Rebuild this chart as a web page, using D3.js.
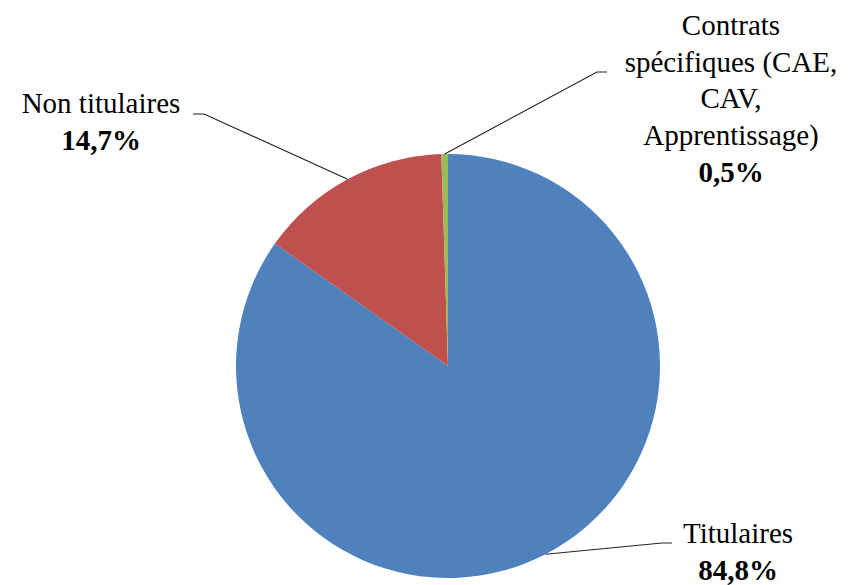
<!DOCTYPE html>
<html>
<head>
<meta charset="utf-8">
<script src="https://cdn.jsdelivr.net/npm/d3@7"></script>
</head>
<body style="margin:0">
<svg id="chart" width="852" height="585"></svg>
<script>
// Répartition des effectifs par statut (%)
const categories = ["Titulaires", "Non titulaires", "Contrats spécifiques (CAE, CAV, Apprentissage)"];
const labelLines = [
  ["Titulaires"],
  ["Non titulaires"],
  ["Contrats", "spécifiques (CAE,", "CAV,", "Apprentissage)"]
];
const values = [84.8, 14.7, 0.5];
const colors = ["#4F81BD", "#C0504D", "#9BBB59"];

const cx = 448, cy = 366, radius = 212;
const fontSize = 29, lineGap = 36.7;

// Label block placement: text centre x, first baseline y, and the leader elbow
const labelPlacement = [
  { x: 738, y: 543, elbow: [[662, 543], [672, 543]] },
  { x: 101, y: 113, elbow: [[204, 114], [193, 114]] },
  { x: 731, y: 35,  elbow: [[597, 72], [607, 72]] }
];

const fmt = v => d3.format(".1f")(v).replace(".", ",") + "%";

const svg = d3.select("#chart");
const g = svg.append("g").attr("transform", `translate(${cx},${cy})`);

const pie = d3.pie().sort(null).value(d => d).startAngle(0).endAngle(2 * Math.PI);
const arcs = pie(values);
const arc = d3.arc().innerRadius(0).outerRadius(radius);
const edgeArc = d3.arc().innerRadius(radius).outerRadius(radius);

g.selectAll("path.slice")
  .data(arcs)
  .join("path")
  .attr("class", "slice")
  .attr("d", arc)
  .attr("fill", (d, i) => colors[i]);

// Leader lines from each slice's outer midpoint to its label
const leader = d3.line();
arcs.forEach((d, i) => {
  const [px, py] = edgeArc.centroid(d);
  const pts = [[px + cx, py + cy], ...labelPlacement[i].elbow];
  svg.append("path")
    .attr("d", leader(pts))
    .attr("fill", "none")
    .attr("stroke", "#222")
    .attr("stroke-width", 1.1);
});

// Labels: category name lines, then the bold percentage
arcs.forEach((d, i) => {
  const p = labelPlacement[i];
  const t = svg.append("text")
    .attr("text-anchor", "middle")
    .attr("font-family", "Liberation Serif")
    .style("font-family", "Liberation Serif")
    .attr("font-size", fontSize)
    .attr("fill", "#000");
  const lines = labelLines[i];
  lines.forEach((ln, k) => {
    t.append("tspan")
      .attr("x", p.x)
      .attr("y", p.y + k * lineGap)
      .style("font-family", "Liberation Serif")
      .text(ln);
  });
  t.append("tspan")
    .attr("x", p.x)
    .attr("y", p.y + lines.length * lineGap)
    .style("font-family", "Liberation Serif")
    .attr("font-weight", "bold")
    .text(fmt(values[i]));
});
</script>
</body>
</html>
